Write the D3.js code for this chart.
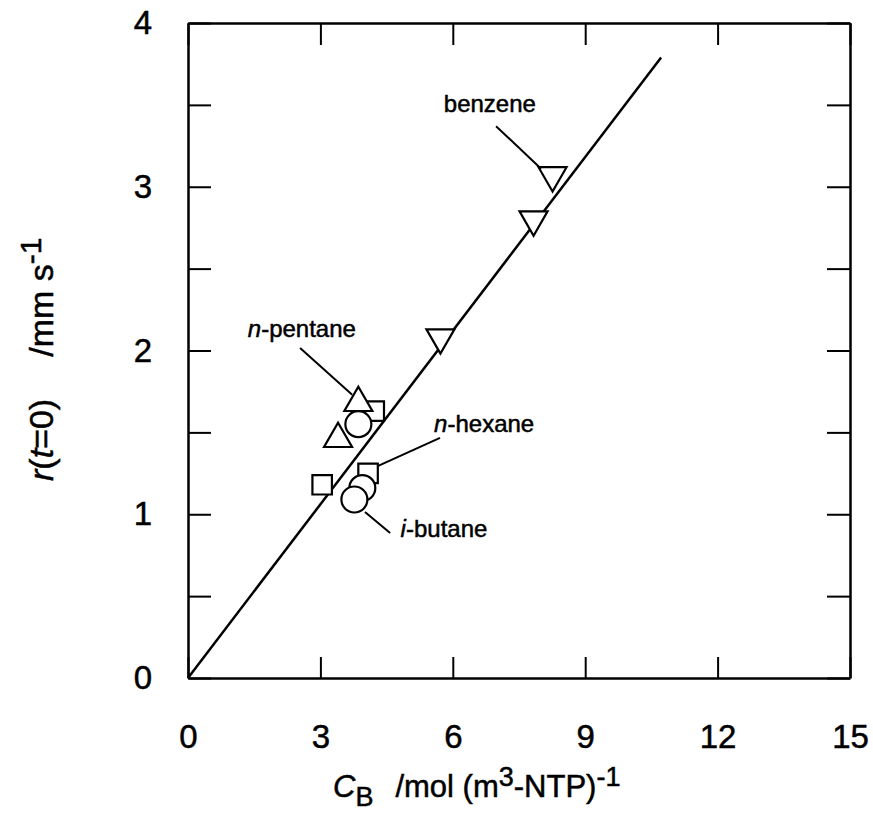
<!DOCTYPE html>
<html>
<head>
<meta charset="utf-8">
<script src="https://cdn.jsdelivr.net/npm/d3@7"></script>
<style>
  body { margin: 0; background: #fff; }
  text { font-family: "Liberation Sans", Arial, sans-serif; fill: #000; stroke: #000; stroke-width: 0.5px; }
</style>
</head>
<body>
<div class="chart"></div>
<script>
//Data
var benzene = [[5.72, 2.08], [7.83, 2.80], [8.26, 3.07]];
var pentane = [[3.86, 1.68], [3.40, 1.46]];
var hexane = [[4.22, 1.63], [3.04, 1.18], [4.08, 1.25]];
var butane = [[3.95, 1.16], [3.86, 1.55], [3.77, 1.09]];
var fitLine = [[0, 0], [10.72, 3.79]];
var xTicks = [0, 3, 6, 9, 12, 15];
var yTicks = [0, 0.5, 1, 1.5, 2, 2.5, 3, 3.5, 4];

//Annotations: name, text position, leader line start and end
var labels = [
    {italic: "", rest: "benzene", at: [6.84, 3.455], from: [6.98, 3.37], to: [8.0, 3.11]},
    {italic: "n", rest: "-pentane", at: [2.58, 2.08], from: [2.54, 2.015], to: [3.72, 1.73]},
    {italic: "n", rest: "-hexane", at: [6.71, 1.50], from: [5.71, 1.466], to: [4.31, 1.295]},
    {italic: "i", rest: "-butane", at: [5.80, 0.86], from: [4.01, 1.014], to: [4.58, 0.886]}
];

//Width and height
var w = 873;
var h = 826;

var svg = d3.select(".chart")
    .append("svg")
    .attr("width", w)
    .attr("height", h);

var x = d3.scaleLinear().domain([0, 15]).range([188, 850]);
var y = d3.scaleLinear().domain([0, 4]).range([678, 23]);

//Axes, ticks point inward
function styleAxis(g) {
    g.selectAll(".domain").attr("stroke", "#000").attr("stroke-width", 2.5);
    g.selectAll(".tick line").attr("stroke", "#000").attr("stroke-width", 2);
    g.selectAll(".tick text").attr("font-size", 33).attr("font-family", "Liberation Sans, Arial, sans-serif");
}

svg.append("g")
    .attr("transform", "translate(0," + y(0) + ")")
    .call(d3.axisBottom(x).tickValues(xTicks).tickSize(-21).tickSizeOuter(0).tickPadding(47))
    .call(styleAxis);

svg.append("g")
    .attr("transform", "translate(0," + y(4) + ")")
    .call(d3.axisTop(x).tickValues(xTicks).tickSize(-22).tickSizeOuter(0).tickFormat(""))
    .call(styleAxis);

svg.append("g")
    .attr("transform", "translate(" + x(0) + ",0)")
    .call(d3.axisLeft(y).tickValues(yTicks).tickSize(-23).tickSizeOuter(0).tickPadding(36)
        .tickFormat(d => Number.isInteger(d) ? d : ""))
    .call(styleAxis);

svg.append("g")
    .attr("transform", "translate(" + x(15) + ",0)")
    .call(d3.axisRight(y).tickValues(yTicks).tickSize(-23).tickSizeOuter(0).tickFormat(""))
    .call(styleAxis);

//Fitted line
svg.append("path")
    .attr("d", d3.line().x(d => x(d[0])).y(d => y(d[1]))(fitLine))
    .attr("fill", "none")
    .attr("stroke", "#000")
    .attr("stroke-width", 2.5);

//Markers
function drawSeries(data, symbol, size, rotate) {
    svg.append("g")
        .selectAll("path")
        .data(data)
        .join("path")
        .attr("d", d3.symbol().type(symbol).size(size))
        .attr("transform", d => "translate(" + x(d[0]) + "," + y(d[1]) + ")" + (rotate ? " rotate(180)" : ""))
        .attr("fill", "#fff")
        .attr("stroke", "#000")
        .attr("stroke-width", 2.2);
}

drawSeries(hexane, d3.symbolSquare, 380, false);
drawSeries(butane, d3.symbolCircle, 530, false);
drawSeries(pentane, d3.symbolTriangle, 340, false);
drawSeries(benzene, d3.symbolTriangle, 340, true);

//Annotations
labels.forEach(l => {
    svg.append("line")
        .attr("x1", x(l.from[0])).attr("y1", y(l.from[1]))
        .attr("x2", x(l.to[0])).attr("y2", y(l.to[1]))
        .attr("stroke", "#000")
        .attr("stroke-width", 2);
    var t = svg.append("text")
        .attr("x", x(l.at[0]))
        .attr("y", y(l.at[1]))
        .attr("text-anchor", "middle")
        .attr("font-size", 24);
    if (l.italic) t.append("tspan").attr("font-style", "italic").text(l.italic);
    t.append("tspan").text(l.rest);
});

//X axis title
var xt = svg.append("text")
    .attr("x", 333)
    .attr("y", 797)
    .attr("font-size", 31);
xt.append("tspan").attr("font-style", "italic").text("C");
xt.append("tspan").attr("dy", 9).attr("font-size", 27).text("B");
xt.append("tspan").attr("dy", -9).attr("dx", 22).text("/mol (m");
xt.append("tspan").attr("dy", -11).attr("font-size", 27).text("3");
xt.append("tspan").attr("dy", 11).text("-NTP)");
xt.append("tspan").attr("dy", -11).attr("font-size", 27).text("-1");

//Y axis title
var yt = svg.append("text")
    .attr("transform", "translate(53,481) rotate(-90)")
    .attr("font-size", 34);
yt.append("tspan").attr("font-style", "italic").text("r");
yt.append("tspan").text("(");
yt.append("tspan").attr("font-style", "italic").text("t");
yt.append("tspan").text("=0)");
yt.append("tspan").attr("dx", 42).text("/mm s");
yt.append("tspan").attr("dy", -12).attr("font-size", 30).text("-1");
</script>
</body>
</html>
